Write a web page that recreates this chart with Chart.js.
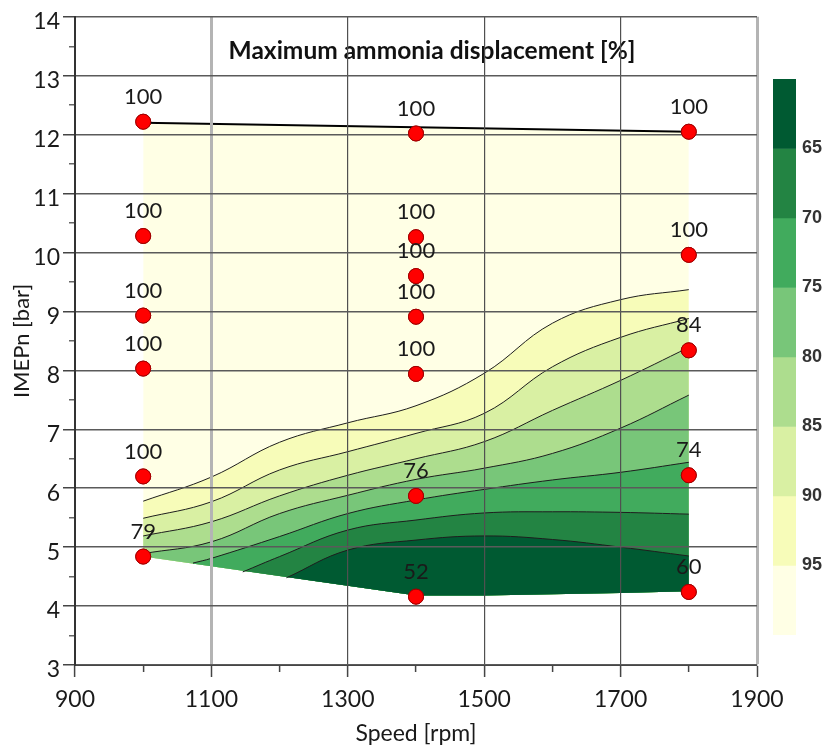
<!DOCTYPE html>
<html>
<head>
<meta charset="utf-8">
<script src="https://cdn.jsdelivr.net/npm/chart.js@4.4.1/dist/chart.umd.min.js"></script>
<style>
  html, body { margin: 0; padding: 0; background: #fff; }
  #wrap { position: relative; width: 828px; height: 747px; }
  #main { position: absolute; left: 0; top: 0; }
  #scale { position: absolute; left: 760px; top: 60px; }
</style>
</head>
<body>
<div id="wrap">
  <canvas id="main" width="828" height="747"></canvas>
  <canvas id="scale" width="68" height="600"></canvas>
</div>
<script>
const font = 'Lato'
const chartTitle = 'Maximum ammonia displacement [%]'

// measured operating points
const pointSpeed = [1000, 1000, 1000, 1000, 1000, 1000, 1400, 1400, 1400, 1400, 1400, 1400, 1400, 1800, 1800, 1800, 1800, 1800]
const pointImep = [12.22, 10.28, 8.93, 8.03, 6.2, 4.84, 12.02, 10.26, 9.6, 8.91, 7.94, 5.87, 4.16, 12.05, 9.96, 8.34, 6.22, 4.24]
const pointDisp = [100, 100, 100, 100, 100, 79, 100, 100, 100, 100, 100, 76, 52, 100, 100, 84, 74, 60]

// contour boundaries (speed / IMEPn)
const topX = [1000, 1800]
const topY = [12.2, 12.05]
const bottomX = [1000, 1400, 1500, 1600, 1700, 1800]
const bottomY = [4.84, 4.18, 4.18, 4.2, 4.22, 4.25]
const fullX = [1000, 1100, 1200, 1300, 1400, 1500, 1600, 1700, 1800]
const c95Y = [5.78, 6.19, 6.78, 7.11, 7.4, 7.95, 8.8, 9.2, 9.37]
const c90Y = [5.49, 5.77, 6.31, 6.62, 6.93, 7.27, 8.06, 8.56, 8.88]
const c85Y = [5.19, 5.43, 5.87, 6.22, 6.5, 6.79, 7.32, 7.83, 8.39]
const c80Y = [4.89, 5.09, 5.57, 5.88, 6.15, 6.34, 6.59, 7.02, 7.58]
const c75X = [1073, 1100, 1200, 1300, 1400, 1500, 1600, 1700, 1800]
const c75Y = [4.73, 4.81, 5.18, 5.57, 5.8, 5.98, 6.14, 6.27, 6.44]
const c70X = [1146, 1200, 1300, 1400, 1500, 1600, 1700, 1800]
const c70Y = [4.58, 4.84, 5.29, 5.46, 5.58, 5.6, 5.59, 5.56]
const c65X = [1210, 1300, 1400, 1500, 1600, 1700, 1800]
const c65Y = [4.48, 4.95, 5.12, 5.19, 5.13, 5.0, 4.85]

// colour bar
const bandEdges = [60, 65, 70, 75, 80, 85, 90, 95, 100]
const bandTicks = [65, 70, 75, 80, 85, 90, 95]
const bandColors = ['#005a32', '#238443', '#41ab5d', '#78c679', '#addd8e', '#d9f0a3', '#f7fcb9', '#ffffe5']

// axis ticks
const xMajorTicks = [900, 1100, 1300, 1500, 1700, 1900]
const xMinorTicks = [1000, 1200, 1400, 1600, 1800]
const yMajorTicks = [3, 4, 5, 6, 7, 8, 9, 10, 11, 12, 13, 14]
const yMinorTicks = [3.5, 4.5, 5.5, 6.5, 7.5, 8.5, 9.5, 10.5, 11.5, 12.5, 13.5]

const BOTTOM = 9
const pts = (xs, ys) => xs.map((x, i) => ({ x, y: ys[i] }))
const setTicks = values => scale => { scale.ticks = values.slice().sort((a, b) => a - b).map(value => ({ value })) }
const isMajor = (list, c) => list.includes(c.tick.value)

const contour = (xs, ys, color, order) => ({
  type: 'line',
  data: pts(xs, ys),
  borderColor: '#1e1e1e',
  borderWidth: 1,
  backgroundColor: color,
  fill: BOTTOM,
  pointRadius: 0,
  tension: 0.4,
  order,
})

const labelPlugin = {
  id: 'labels',
  beforeDatasetsDraw(chart) {
    const { ctx, chartArea } = chart
    ctx.save()
    ctx.font = `bold 24.5px ${font}`
    ctx.fillStyle = '#111'
    ctx.textAlign = 'center'
    ctx.textBaseline = 'middle'
    ctx.fillText(chartTitle, (chartArea.left + chartArea.right) / 2 + 16, chartArea.top + 34)
    ctx.restore()
  },
  afterDraw(chart) {
    const meta = chart.getDatasetMeta(0)
    meta.controller.draw() // points above the grid
    const ctx = chart.ctx
    ctx.save()
    ctx.font = `22px ${font}`
    ctx.fillStyle = '#1a1a1a'
    ctx.textAlign = 'center'
    ctx.textBaseline = 'middle'
    meta.data.forEach((pt, i) => ctx.fillText(String(pointDisp[i]), pt.x, pt.y - 25))
    ctx.restore()
  },
}

new Chart(document.getElementById('main'), {
  type: 'line',
  data: {
    datasets: [
      {
        type: 'scatter',
        data: pts(pointSpeed, pointImep),
        backgroundColor: '#ff0000',
        borderColor: '#a00000',
        borderWidth: 1,
        pointRadius: 7.5,
        order: 0,
      },
      contour(c65X, c65Y, bandColors[0], 1),
      contour(c70X, c70Y, bandColors[1], 2),
      contour(c75X, c75Y, bandColors[2], 3),
      contour(fullX, c80Y, bandColors[3], 4),
      contour(fullX, c85Y, bandColors[4], 5),
      contour(fullX, c90Y, bandColors[5], 6),
      contour(fullX, c95Y, bandColors[6], 7),
      { ...contour(topX, topY, bandColors[7], 8), borderColor: '#000', borderWidth: 2, tension: 0 },
      { ...contour(bottomX, bottomY, 'rgba(0,0,0,0)', 9), fill: false, borderColor: 'rgba(0,0,0,0)', tension: 0 },
    ],
  },
  options: {
    responsive: false,
    animation: false,
    events: [],
    layout: { padding: { top: 16, right: 71, left: 0, bottom: 0 } },
    plugins: { legend: { display: false }, tooltip: { enabled: false } },
    scales: {
      x: {
        type: 'linear', position: 'bottom', min: 900, max: 1900,
        afterBuildTicks: setTicks(xMajorTicks.concat(xMinorTicks)),
        afterFit: s => { s.height = 82 },
        grid: {
          z: 1,
          color: c => !isMajor(xMajorTicks, c) ? 'rgba(0,0,0,0)' : [1100, 1900].includes(c.tick.value) ? '#b4b4b4' : '#505050',
          lineWidth: c => [1100, 1900].includes(c.tick.value) ? 3 : 1.2,
          tickLength: 12, tickColor: '#444', tickWidth: 1.5,
          tickBorderDash: c => isMajor(xMajorTicks, c) ? [] : [6, 100],
        },
        border: { color: '#333', width: 2, z: 1 },
        ticks: {
          font: { family: font, size: 23 }, color: '#1a1a1a', padding: 9, maxRotation: 0, autoSkip: false,
          callback: v => xMajorTicks.includes(v) ? String(v) : '',
        },
        title: { display: true, text: 'Speed [rpm]', font: { family: font, size: 23 }, color: '#1a1a1a', padding: { top: 0, bottom: 0 } },
      },
      y: {
        type: 'linear', position: 'left', min: 3, max: 14,
        afterBuildTicks: setTicks(yMajorTicks.concat(yMinorTicks)),
        afterFit: s => { s.width = 75 },
        grid: {
          z: 1,
          color: c => isMajor(yMajorTicks, c) ? '#5a5a5a' : 'rgba(0,0,0,0)',
          lineWidth: 1.5, tickLength: 12, tickWidth: 1.5,
          tickColor: c => isMajor(yMajorTicks, c) ? '#444' : '#666',
          tickBorderDash: c => isMajor(yMajorTicks, c) ? [] : [0, 6, 6, 100],
        },
        border: { color: '#333', width: 2, z: 1 },
        ticks: {
          font: { family: font, size: 23 }, color: '#1a1a1a', padding: 3, labelOffset: 5, autoSkip: false,
          callback: v => yMajorTicks.includes(v) ? String(v) : '',
        },
        title: { display: true, text: 'IMEPn [bar]', font: { family: font, size: 22 }, color: '#1a1a1a', padding: { top: 9, bottom: 0 } },
      },
    },
  },
  plugins: [labelPlugin],
})

new Chart(document.getElementById('scale'), {
  type: 'bar',
  data: {
    labels: [''],
    datasets: bandColors.map((color, i) => ({
      data: [[bandEdges[i], bandEdges[i + 1]]],
      backgroundColor: color,
      borderWidth: 0,
      grouped: false,
      barPercentage: 1,
      categoryPercentage: 1,
    })),
  },
  options: {
    responsive: false,
    animation: false,
    events: [],
    layout: { padding: { left: 13, top: 19, bottom: 25, right: 0 } },
    plugins: { legend: { display: false }, tooltip: { enabled: false } },
    scales: {
      x: { display: false },
      y: {
        position: 'right', reverse: true, min: 60, max: 100,
        afterBuildTicks: setTicks(bandTicks),
        afterFit: s => { s.width = 32 },
        grid: { display: false, drawTicks: false },
        border: { display: false },
        ticks: { padding: 6, font: { family: 'Liberation Sans', size: 18, weight: 'bold' }, color: '#333', callback: v => String(v) },
      },
    },
  },
})
</script>
</body>
</html>
